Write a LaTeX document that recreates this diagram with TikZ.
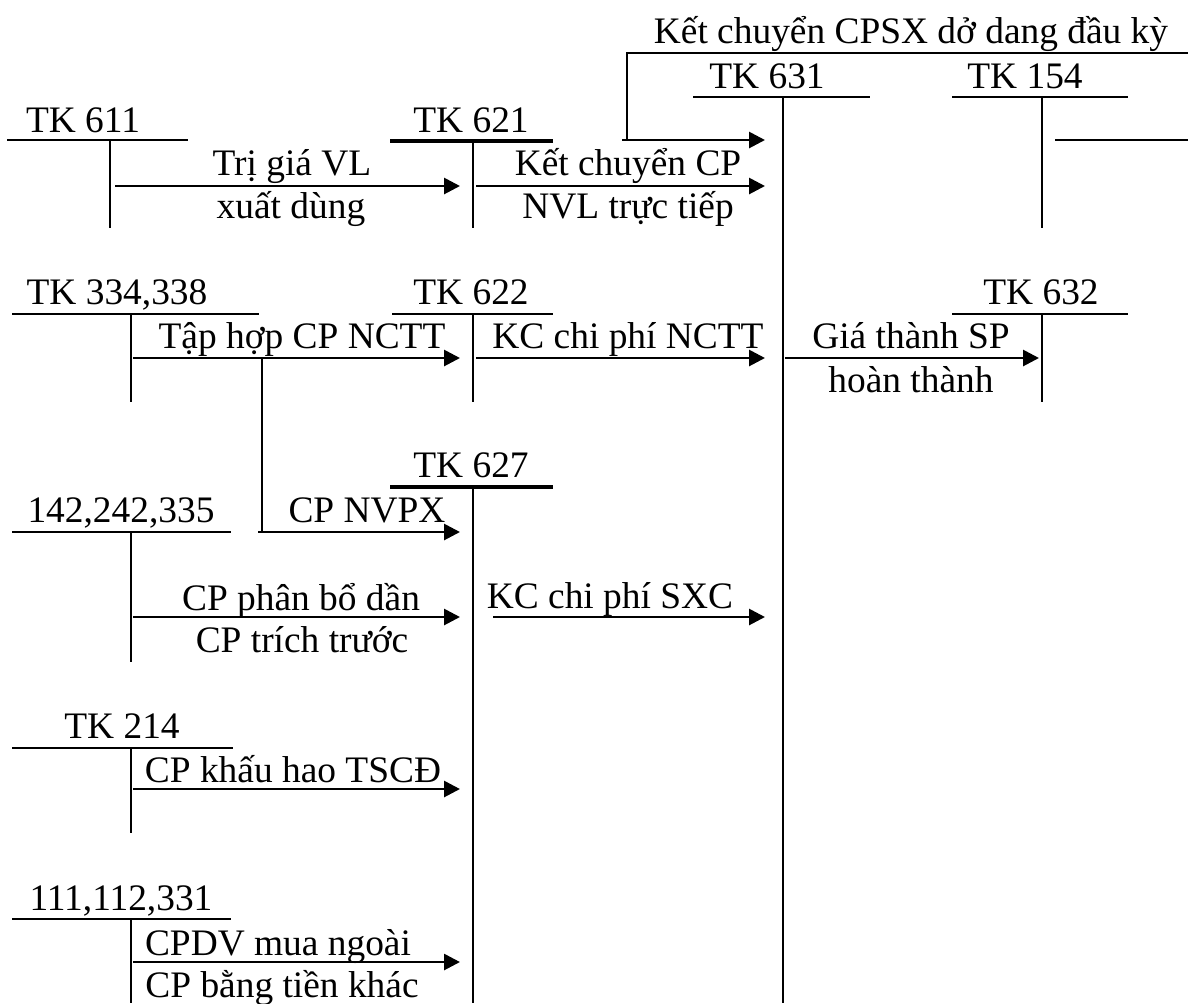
\documentclass[tikz,border=0pt]{standalone}
\usepackage{fontspec}
\setmainfont{Liberation Serif}
\usetikzlibrary{arrows.meta}
\begin{document}
\begin{tikzpicture}[x=0.5pt,y=-0.5pt,
  acc/.style={line width=1.1pt},
  accthick/.style={line width=1.7pt},
  thin/.style={line width=0.8pt},
  flow/.style={line width=1.4pt,-{Triangle[length=8pt,width=8pt]}},
  lbl/.style={inner sep=0pt,anchor=base,font=\fontsize{18.7}{22}\selectfont},
]
\useasboundingbox (0,0) rectangle (1188,1003);

% ---------- T-accounts ----------
% TK 611
\node[lbl] (n611) at (83,132) {TK 611};
\coordinate (a611) at (110,140);
\draw[acc] (7,140) -- (188,140);
\draw[acc] (a611) -- (110,228);
% TK 621
\node[lbl] (n621) at (471,132) {TK 621};
\coordinate (a621) at (473,141);
\draw[accthick] (390,141) -- (553,141);
\draw[acc] (a621) -- (473,228);
% TK 631
\node[lbl] (n631) at (767,88) {TK 631};
\coordinate (a631) at (783,97);
\draw[acc] (693,97) -- (870,97);
\draw[acc] (a631) -- (783,1003);
% TK 154
\node[lbl] (n154) at (1025,88) {TK 154};
\coordinate (a154) at (1042,97);
\draw[acc] (952,97) -- (1128,97);
\draw[acc] (a154) -- (1042,228);
% TK 334,338
\node[lbl] (n334) at (117,304) {TK 334,338};
\coordinate (a334) at (131,314);
\draw[acc] (12,314) -- (259,314);
\draw[acc] (a334) -- (131,402);
% TK 622
\node[lbl] (n622) at (471,304) {TK 622};
\coordinate (a622) at (473,314);
\draw[acc] (392,314) -- (553,314);
\draw[acc] (a622) -- (473,402);
% TK 632
\node[lbl] (n632) at (1041,304) {TK 632};
\coordinate (a632) at (1042,314);
\draw[acc] (952,314) -- (1128,314);
\draw[acc] (a632) -- (1042,402);
% TK 627
\node[lbl] (n627) at (471,477) {TK 627};
\coordinate (a627) at (473,487);
\draw[accthick] (390,487) -- (553,487);
\draw[acc] (a627) -- (473,1003);
% 142,242,335
\node[lbl] (n142) at (121,522) {142,242,335};
\coordinate (a142) at (131,532);
\draw[acc] (12,532) -- (231,532);
\draw[acc] (a142) -- (131,662);
% TK 214
\node[lbl] (n214) at (122,738) {TK 214};
\coordinate (a214) at (131,748);
\draw[acc] (12,748) -- (233,748);
\draw[acc] (a214) -- (131,833);
% 111,112,331
\node[lbl] (n111) at (121,910) {111,112,331};
\coordinate (a111) at (131,919);
\draw[acc] (12,919) -- (231,919);
\draw[acc] (a111) -- (131,1003);

% ---------- connector end points ----------
\coordinate (kcTop) at (1188,53);
\coordinate (kcCorner) at (627,53);
\coordinate (kcDown) at (627,140);
\coordinate (kcEnd) at (765,140);
\coordinate (f1s) at (115,186);  \coordinate (f1e) at (460,186);
\coordinate (f2s) at (476,186);  \coordinate (f2e) at (765,186);
\coordinate (f3s) at (133,358);  \coordinate (f3e) at (460,358);
\coordinate (f4s) at (262,358);  \coordinate (f4c) at (262,532);  \coordinate (f4e) at (460,532);
\coordinate (f5s) at (476,358);  \coordinate (f5e) at (765,358);
\coordinate (f6s) at (785,358);  \coordinate (f6e) at (1039,358);
\coordinate (f7s) at (133,617);  \coordinate (f7e) at (460,617);
\coordinate (f8s) at (493,617);  \coordinate (f8e) at (765,617);
\coordinate (f9s) at (133,789);  \coordinate (f9e) at (460,789);
\coordinate (f10s) at (133,962); \coordinate (f10e) at (460,962);
\coordinate (o154s) at (1055,140); \coordinate (o154e) at (1188,140);

% ---------- connectors ----------
\draw[acc] (kcTop) -- (kcCorner) -- (kcDown);
\draw[flow] (622,140) -- (kcEnd);
\draw[flow] (f1s) -- (f1e);
\draw[flow] (f2s) -- (f2e);
\draw[flow] (f3s) -- (f3e);
\draw[acc] (f4s) -- (f4c);
\draw[flow] (258,532) -- (f4e);
\draw[flow] (f5s) -- (f5e);
\draw[flow] (f6s) -- (f6e);
\draw[flow] (f7s) -- (f7e);
\draw[flow] (f8s) -- (f8e);
\draw[flow] (f9s) -- (f9e);
\draw[flow] (f10s) -- (f10e);
\draw[thin] (o154s) -- (o154e);

% ---------- labels ----------
\node[lbl] (tkc) at (911,43) {Kết chuyển CPSX dở dang đầu kỳ};
\node[lbl] (t1a) at (292,175) {Trị giá VL};
\node[lbl] (t1b) at (291,218) {xuất dùng};
\node[lbl] (t2a) at (628,175) {Kết chuyển CP};
\node[lbl] (t2b) at (628,218) {NVL trực tiếp};
\node[lbl] (t3) at (302,348) {Tập hợp CP NCTT};
\node[lbl] (t4) at (367,522) {CP NVPX};
\node[lbl] (t5) at (628,348) {KC chi phí NCTT};
\node[lbl] (t6a) at (911,348) {Giá thành SP};
\node[lbl] (t6b) at (911,392) {hoàn thành};
\node[lbl] (t7a) at (301,610) {CP phân bổ dần};
\node[lbl] (t7b) at (302,652) {CP trích trước};
\node[lbl] (t8) at (610,608) {KC chi phí SXC};
\node[lbl] (t9) at (293,782) {CP khấu hao TSCĐ};
\node[lbl] (t10a) at (278,955) {CPDV mua ngoài};
\node[lbl] (t10b) at (282,997) {CP bằng tiền khác};
\end{tikzpicture}
\end{document}
